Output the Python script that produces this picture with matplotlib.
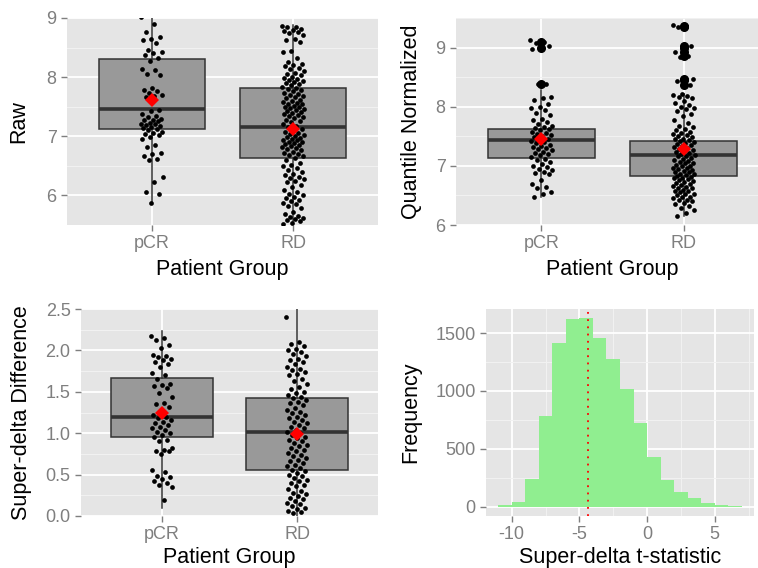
import matplotlib.pyplot as plt
from matplotlib.ticker import MultipleLocator, FixedLocator, FormatStrFormatter

plt.rcParams['font.family'] = ['Liberation Sans', 'DejaVu Sans']
plt.rcParams['axes.unicode_minus'] = False

groups = ['pCR', 'RD']

# values
raw_pcr = [9.02, 8.9, 8.77, 8.68, 8.65, 8.62, 8.57, 8.46, 8.43, 8.4, 8.37, 8.33, 8.27, 8.14, 8.12,
           8.06, 8.04, 7.82, 7.79, 7.76, 7.73, 7.7, 7.68, 7.66, 7.45, 7.42, 7.38, 7.35, 7.32, 7.3,
           7.28, 7.27, 7.25, 7.23, 7.21, 7.2, 7.19, 7.18, 7.16, 7.14, 7.12, 7.1, 7.08, 7.06, 7.04,
           7.02, 6.98, 6.95, 6.85, 6.82, 6.72, 6.7, 6.67, 6.62, 6.6, 6.32, 6.22, 6.05, 6.03, 5.88]
raw_rd = [8.87, 8.85, 8.84, 8.82, 8.8, 8.78, 8.76, 8.74, 8.72, 8.65, 8.62, 8.6, 8.44, 8.42, 8.32,
          8.25, 8.22, 8.2, 8.18, 8.16, 8.13, 8.1, 8.07, 8.05, 8.03, 8.0, 7.98, 7.97, 7.95, 7.93,
          7.91, 7.9, 7.88, 7.86, 7.84, 7.82, 7.8, 7.78, 7.76, 7.74, 7.72, 7.7, 7.68, 7.66, 7.64,
          7.62, 7.6, 7.58, 7.57, 7.55, 7.54, 7.52, 7.5, 7.49, 7.47, 7.46, 7.44, 7.43, 7.41, 7.4,
          7.38, 7.36, 7.35, 7.33, 7.31, 7.28, 7.26, 7.24, 7.2, 7.18, 7.15, 7.12, 7.1, 7.08, 7.06,
          7.04, 7.02, 7.0, 6.99, 6.97, 6.96, 6.94, 6.93, 6.91, 6.9, 6.88, 6.87, 6.85, 6.84, 6.82,
          6.8, 6.78, 6.76, 6.74, 6.72, 6.7, 6.68, 6.66, 6.64, 6.6, 6.55, 6.52, 6.5, 6.46, 6.43,
          6.4, 6.37, 6.34, 6.32, 6.3, 6.28, 6.25, 6.22, 6.18, 6.14, 6.1, 6.06, 6.03, 6.0, 5.98,
          5.95, 5.92, 5.9, 5.88, 5.85, 5.82, 5.78, 5.72, 5.68, 5.66, 5.64, 5.62, 5.6, 5.58, 5.56,
          5.53, 5.51]

quant_pcr = [9.12, 9.1, 9.08, 9.02, 9.0, 8.97, 8.38, 8.38, 8.16, 8.14, 8.12, 8.04, 8.0, 7.97,
             7.94, 7.9, 7.86, 7.8, 7.77, 7.74, 7.7, 7.68, 7.66, 7.64, 7.62, 7.6, 7.58, 7.56, 7.54,
             7.52, 7.5, 7.48, 7.46, 7.44, 7.42, 7.4, 7.38, 7.36, 7.34, 7.32, 7.3, 7.28, 7.26, 7.24,
             7.22, 7.2, 7.18, 7.15, 7.12, 7.1, 7.06, 7.03, 7.0, 6.98, 6.95, 6.93, 6.9, 6.88, 6.86,
             6.76, 6.7, 6.64, 6.62, 6.55, 6.52, 6.47]
quant_rd = [9.38, 9.36, 9.34, 9.02, 9.0, 8.92, 8.86, 8.84, 8.47, 8.45, 8.43, 8.36, 8.22, 8.2,
            8.18, 8.16, 8.14, 8.1, 8.06, 8.03, 8.0, 7.98, 7.96, 7.92, 7.88, 7.85, 7.78, 7.72, 7.68,
            7.65, 7.62, 7.6, 7.58, 7.56, 7.54, 7.52, 7.5, 7.48, 7.46, 7.45, 7.43, 7.42, 7.4, 7.39,
            7.37, 7.36, 7.34, 7.32, 7.3, 7.28, 7.27, 7.25, 7.24, 7.22, 7.2, 7.19, 7.17, 7.16, 7.14,
            7.12, 7.1, 7.09, 7.07, 7.05, 7.04, 7.02, 7.0, 6.99, 6.97, 6.96, 6.94, 6.93, 6.91, 6.9,
            6.89, 6.87, 6.86, 6.85, 6.83, 6.82, 6.8, 6.79, 6.77, 6.76, 6.74, 6.72, 6.71, 6.69, 6.68,
            6.66, 6.65, 6.63, 6.62, 6.6, 6.58, 6.57, 6.55, 6.53, 6.52, 6.5, 6.48, 6.47, 6.45, 6.43,
            6.42, 6.4, 6.38, 6.35, 6.32, 6.28, 6.25, 6.2, 6.15]

super_pcr = [2.17, 2.15, 2.12, 2.06, 2.03, 1.95, 1.93, 1.92, 1.9, 1.88, 1.86, 1.83, 1.8, 1.73,
             1.7, 1.66, 1.6, 1.58, 1.57, 1.55, 1.48, 1.44, 1.37, 1.35, 1.32, 1.28, 1.22, 1.2, 1.18,
             1.16, 1.14, 1.12, 1.1, 1.08, 1.06, 1.04, 1.02, 1.0, 0.98, 0.95, 0.92, 0.9, 0.82, 0.8,
             0.79, 0.78, 0.75, 0.55, 0.53, 0.48, 0.47, 0.45, 0.42, 0.4, 0.38, 0.35, 0.19]
super_rd = [2.4, 2.1, 2.08, 2.05, 2.02, 2.0, 1.98, 1.96, 1.93, 1.9, 1.88, 1.86, 1.83, 1.8, 1.78,
            1.76, 1.74, 1.72, 1.7, 1.66, 1.63, 1.6, 1.56, 1.53, 1.5, 1.48, 1.46, 1.44, 1.42, 1.4,
            1.38, 1.36, 1.34, 1.3, 1.28, 1.26, 1.24, 1.22, 1.2, 1.18, 1.16, 1.14, 1.12, 1.1, 1.08,
            1.06, 1.04, 1.02, 1.0, 0.98, 0.96, 0.94, 0.92, 0.9, 0.88, 0.86, 0.84, 0.82, 0.8, 0.78,
            0.76, 0.74, 0.72, 0.7, 0.68, 0.66, 0.64, 0.62, 0.6, 0.58, 0.56, 0.54, 0.52, 0.5, 0.48,
            0.46, 0.44, 0.42, 0.4, 0.38, 0.36, 0.33, 0.3, 0.28, 0.26, 0.24, 0.22, 0.2, 0.18, 0.16,
            0.14, 0.12, 0.1, 0.08, 0.06, 0.05, 0.04]

# box summaries per group: q1, median, q3, lower whisker, upper whisker, mean
raw_q1 = [7.12, 6.63]
raw_med = [7.46, 7.16]
raw_q3 = [8.30, 7.82]
raw_lo = [5.87, 5.45]
raw_hi = [9.10, 8.88]
raw_mean = [7.62, 7.13]
raw_out = [[], []]

quant_q1 = [7.14, 6.83]
quant_med = [7.44, 7.18]
quant_q3 = [7.62, 7.42]
quant_lo = [6.47, 6.15]
quant_hi = [8.28, 8.22]
quant_mean = [7.45, 7.28]
quant_out = [[8.38, 9.0, 9.1], [8.36, 8.45, 8.47, 8.86, 8.92, 9.0, 9.02, 9.35, 9.37]]

super_q1 = [0.955, 0.56]
super_med = [1.197, 1.015]
super_q3 = [1.67, 1.42]
super_lo = [0.10, 0.0]
super_hi = [2.23, 2.62]
super_mean = [1.25, 0.99]
super_out = [[], []]

# histogram of super-delta t-statistics (bin width 1)
bin_left = [-11, -10, -9, -8, -7, -6, -5, -4, -3, -2, -1, 0, 1, 2, 3, 4, 5, 6]
bin_count = [12, 37, 239, 783, 1414, 1618, 1627, 1457, 1276, 1019, 726, 432, 230, 127, 75, 32, 17, 6]
observed_t = -4.37

W, H = 758.0, 568.0
PANEL_BG = '#E5E5E5'
TICK_GREY = '#7F7F7F'


def addPanel(fig, left, top, right, bottom):
    ax = fig.add_axes([left / W, 1 - bottom / H, (right - left) / W, (bottom - top) / H])
    ax.set_facecolor(PANEL_BG)
    for s in ax.spines.values():
        s.set_visible(False)
    ax.set_axisbelow(True)
    ax.grid(which='major', color='white', linewidth=1.3)
    ax.grid(which='minor', color='#F2F2F2', linewidth=0.7)
    ax.tick_params(which='major', colors=TICK_GREY, labelsize=13, length=4, width=1)
    ax.tick_params(which='minor', length=0)
    return ax


def jitter(n, width=0.078):
    return [width * (2 * ((i * 0.6180339887) % 1.0) - 1) for i in range(n)]


def boxPanel(ax, points, q1, med, q3, lo, hi, mean, outliers, ylim, ylabel, ylab_x, xlab_y):
    stats = []
    for i in range(len(groups)):
        stats.append(dict(q1=q1[i], med=med[i], q3=q3[i], whislo=lo[i], whishi=hi[i],
                          fliers=outliers[i], label=groups[i]))
    ax.bxp(stats, positions=[1, 2], widths=0.75, showcaps=False, patch_artist=True,
           boxprops=dict(facecolor='#999999', edgecolor='#333333', linewidth=1.1),
           medianprops=dict(color='#333333', linewidth=2.6),
           whiskerprops=dict(color='#333333', linewidth=1.1),
           flierprops=dict(marker='o', markerfacecolor='black', markeredgecolor='black',
                           markersize=5.5),
           zorder=2)
    for i, vals in enumerate(points):
        xs = [i + 1 + d for d in jitter(len(vals))]
        ax.plot(xs, vals, 'o', color='black', markersize=3.4, markeredgewidth=0, zorder=3)
    ax.plot([1, 2], mean, 'D', color='red', markersize=7.5, markeredgewidth=0, zorder=4,
            linestyle='none')
    ax.set_xlim(0.4, 2.6)
    ax.set_ylim(*ylim)
    ax.set_xticks([1, 2])
    ax.set_xticklabels(groups)
    ax.yaxis.set_minor_locator(MultipleLocator(0.5 if ylim[1] > 3 else 0.25))
    ax.set_xlabel('Patient Group', fontsize=15.5)
    ax.xaxis.set_label_coords(0.5, xlab_y)
    ax.xaxis.label.set_va('top')
    ax.set_ylabel(ylabel, fontsize=15.5)
    ax.yaxis.set_label_coords(ylab_x, 0.5)


fig = plt.figure(figsize=(7.58, 5.68), dpi=100)

ax1 = addPanel(fig, 67, 18, 378, 225)
boxPanel(ax1, [raw_pcr, raw_rd], raw_q1, raw_med, raw_q3, raw_lo, raw_hi, raw_mean, raw_out,
         (5.5, 9.0), 'Raw', -0.12, -0.165)
ax1.set_yticks([6, 7, 8, 9])

ax2 = addPanel(fig, 456, 18, 769, 225)
boxPanel(ax2, [quant_pcr, quant_rd], quant_q1, quant_med, quant_q3, quant_lo, quant_hi,
         quant_mean, quant_out, (6.0, 9.5), 'Quantile Normalized', -0.11, -0.165)
ax2.set_yticks([6, 7, 8, 9])

ax3 = addPanel(fig, 81, 309, 378, 516)
boxPanel(ax3, [super_pcr, super_rd], super_q1, super_med, super_q3, super_lo, super_hi,
         super_mean, super_out, (0.0, 2.5), 'Super-delta Difference', -0.165, -0.148)
ax3.set_yticks([0, 0.5, 1.0, 1.5, 2.0, 2.5])
ax3.yaxis.set_major_formatter(FormatStrFormatter('%.1f'))

ax4 = addPanel(fig, 486, 309, 754, 516)
ax4.bar(bin_left, bin_count, width=1, align='edge', color='#90EE90', linewidth=0, zorder=2)
ax4.axvline(observed_t, color='red', linestyle=(0, (1, 3)), linewidth=1.3, zorder=3)
ax4.set_xlim(-11.9, 7.9)
ax4.set_ylim(-81, 1708)
ax4.set_xticks([-10, -5, 0, 5])
ax4.xaxis.set_minor_locator(FixedLocator([-7.5, -2.5, 2.5, 7.5]))
ax4.set_yticks([0, 500, 1000, 1500])
ax4.yaxis.set_minor_locator(FixedLocator([250, 750, 1250]))
ax4.set_xlabel('Super-delta t-statistic', fontsize=15.5)
ax4.xaxis.set_label_coords(0.5, -0.148)
ax4.xaxis.label.set_va('top')
ax4.set_ylabel('Frequency', fontsize=15.5)
ax4.yaxis.set_label_coords(-0.24, 0.5)

fig.savefig('out.png', dpi=100)
